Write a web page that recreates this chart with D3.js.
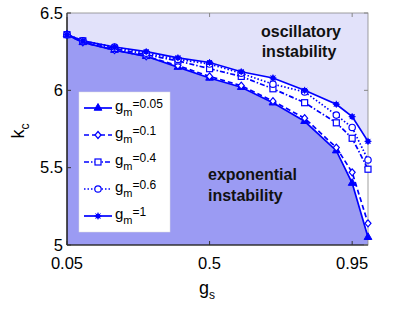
<!DOCTYPE html>
<html>
<head>
<meta charset="utf-8">
<script src="https://cdn.jsdelivr.net/npm/d3@7"></script>
<style>
  body { margin: 0; background: #fff; }
  svg { display: block; font-family: "Liberation Sans", Arial, sans-serif; }
</style>
</head>
<body>
<svg width="415" height="313"></svg>
<script>
// coupling strength g_s on the x axis
const gs = [0.05, 0.1, 0.2, 0.3, 0.4, 0.5, 0.6, 0.7, 0.8, 0.9, 0.95, 1.0]
// critical wavenumber k_c, one array per g_m
const kc005 = [6.36, 6.31, 6.26, 6.22, 6.15, 6.08, 6.02, 5.92, 5.80, 5.61, 5.40, 5.05]
const kc01 = [6.36, 6.31, 6.26, 6.22, 6.16, 6.09, 6.03, 5.93, 5.82, 5.63, 5.47, 5.14]
const kc04 = [6.36, 6.32, 6.27, 6.23, 6.19, 6.14, 6.09, 6.01, 5.92, 5.79, 5.69, 5.49]
const kc06 = [6.36, 6.32, 6.28, 6.24, 6.20, 6.17, 6.11, 6.04, 5.99, 5.84, 5.76, 5.55]
const kc1 = [6.36, 6.32, 6.28, 6.25, 6.21, 6.18, 6.12, 6.08, 6.00, 5.91, 5.83, 5.67]
const gmLabels = ["0.05", "0.1", "0.4", "0.6", "1"]
const xTicks = [0.05, 0.5, 0.95]
const yTicks = [5, 5.5, 6, 6.5]

const series = [
    { label: gmLabels[0], values: kc005, dash: null, marker: "triangle" },
    { label: gmLabels[1], values: kc01, dash: "5,3", marker: "diamond" },
    { label: gmLabels[2], values: kc04, dash: "5,2,1.5,2", marker: "square" },
    { label: gmLabels[3], values: kc06, dash: "1.5,2", marker: "circle" },
    { label: gmLabels[4], values: kc1, dash: null, marker: "star" }
]

const BLUE = "#0000ff"
const svg = d3.select("svg")
const x = d3.scaleLinear().domain([0.05, 1.0]).range([67, 368])
const y = d3.scaleLinear().domain([5, 6.5]).range([245, 13])

const pts = v => gs.map((g, i) => [x(g), y(v[i])])

// background regions
const plot = svg.append("g")
plot.append("rect")
    .attr("x", x(0.05)).attr("y", y(6.5))
    .attr("width", x(1) - x(0.05)).attr("height", y(5) - y(6.5))
    .attr("fill", "#ffffff")

// oscillatory region above gm=1 curve
let upper = [[x(0.05), y(6.5)]].concat(pts(kc1)).concat([[x(1), y(6.5)]])
plot.append("path")
    .attr("d", "M" + upper.join("L") + "Z")
    .attr("fill", "#e2e2fa")

// exponential region below gm=0.05 curve
let lower = [[x(0.05), y(5)]].concat(pts(kc005)).concat([[x(1), y(5)]])
plot.append("path")
    .attr("d", "M" + lower.join("L") + "Z")
    .attr("fill", "#9b9bf3")

// region labels
const region = svg.append("g")
    .attr("font-weight", "bold").attr("font-size", 16).attr("fill", "#111")
region.append("text").attr("x", 301).attr("y", 37).attr("text-anchor", "middle").text("oscillatory")
region.append("text").attr("x", 299).attr("y", 57).attr("text-anchor", "middle").text("instability")
region.append("text").attr("x", 208).attr("y", 180).text("exponential")
region.append("text").attr("x", 208).attr("y", 201).text("instability")

// axes box + ticks (inward, matlab style)
const ax = svg.append("g")
ax.append("rect")
    .attr("x", x(0.05)).attr("y", y(6.5))
    .attr("width", x(1) - x(0.05)).attr("height", y(5) - y(6.5))
    .attr("fill", "none").attr("stroke", "#888").attr("stroke-width", 0.8)
ax.append("line")
    .attr("x1", x(0.05)).attr("x2", x(0.05)).attr("y1", y(6.5)).attr("y2", y(5))
    .attr("stroke", "#000").attr("stroke-width", 1.2)
ax.append("line")
    .attr("x1", x(0.05)).attr("x2", x(1)).attr("y1", y(5)).attr("y2", y(5))
    .attr("stroke", "#000").attr("stroke-width", 1.2)

xTicks.forEach(t => {
    ax.append("line").attr("x1", x(t)).attr("x2", x(t))
        .attr("y1", y(5)).attr("y2", y(5) - 4).attr("stroke", "#333")
    ax.append("line").attr("x1", x(t)).attr("x2", x(t))
        .attr("y1", y(6.5)).attr("y2", y(6.5) + 4).attr("stroke", "#888")
    ax.append("text").attr("x", x(t)).attr("y", 269)
        .attr("text-anchor", "middle").attr("font-size", 16.5).text(t)
})
yTicks.forEach(t => {
    ax.append("line").attr("x1", x(0.05)).attr("x2", x(0.05) + 4)
        .attr("y1", y(t)).attr("y2", y(t)).attr("stroke", "#333")
    ax.append("line").attr("x1", x(1)).attr("x2", x(1) - 4)
        .attr("y1", y(t)).attr("y2", y(t)).attr("stroke", "#888")
    ax.append("text").attr("x", 63).attr("y", y(t) + 5.5)
        .attr("text-anchor", "end").attr("font-size", 16.5).text(t)
})

// axis labels
const xl = svg.append("text").attr("x", 207).attr("y", 294)
    .attr("font-size", 18).attr("text-anchor", "middle")
xl.append("tspan").text("g")
xl.append("tspan").attr("font-size", 12).attr("dy", 5).text("s")

const yl = svg.append("text")
    .attr("transform", "translate(24,131) rotate(-90)")
    .attr("font-size", 18).attr("text-anchor", "middle")
yl.append("tspan").text("k")
yl.append("tspan").attr("font-size", 12).attr("dy", 5).text("c")

// markers
function drawMarker(g, type, cx, cy) {
    if (type === "triangle") {
        g.append("path").attr("transform", `translate(${cx},${cy})`)
            .attr("d", d3.symbol(d3.symbolTriangle, 26)())
            .attr("fill", BLUE).attr("stroke", BLUE).attr("stroke-width", 1)
    } else if (type === "diamond") {
        g.append("path").attr("transform", `translate(${cx},${cy})`)
            .attr("d", "M0,-3.5L3,0L0,3.5L-3,0Z")
            .attr("fill", "#fff").attr("stroke", BLUE).attr("stroke-width", 1.2)
    } else if (type === "square") {
        g.append("rect").attr("x", cx - 3).attr("y", cy - 3)
            .attr("width", 6).attr("height", 6)
            .attr("fill", "#fff").attr("stroke", BLUE).attr("stroke-width", 1.2)
    } else if (type === "circle") {
        g.append("circle").attr("cx", cx).attr("cy", cy).attr("r", 3.2)
            .attr("fill", "#fff").attr("stroke", BLUE).attr("stroke-width", 1.2)
    } else {
        g.append("circle").attr("cx", cx).attr("cy", cy).attr("r", 2.6)
            .attr("fill", BLUE)
        g.append("path").attr("transform", `translate(${cx},${cy})`)
            .attr("d", "M-3.5,0H3.5M0,-3.5V3.5M-2.5,-2.5L2.5,2.5M-2.5,2.5L2.5,-2.5")
            .attr("stroke", BLUE).attr("stroke-width", 1)
    }
}

const line = d3.line().x(d => d[0]).y(d => d[1])
const lines = svg.append("g")
series.forEach(s => {
    lines.append("path")
        .attr("d", line(pts(s.values)))
        .attr("fill", "none").attr("stroke", BLUE).attr("stroke-width", 1.7)
        .attr("stroke-dasharray", s.dash)
})
series.forEach(s => {
    pts(s.values).forEach(p => drawMarker(lines, s.marker, p[0], p[1]))
})

// legend
const leg = svg.append("g")
leg.append("rect").attr("x", 79).attr("y", 92).attr("width", 91).attr("height", 140)
    .attr("fill", "#fff").attr("stroke", "#ddd").attr("stroke-width", 0.5)
series.forEach((s, i) => {
    let ly = 108 + i * 27
    leg.append("line").attr("x1", 84).attr("x2", 112).attr("y1", ly).attr("y2", ly)
        .attr("stroke", BLUE).attr("stroke-width", 1.7).attr("stroke-dasharray", s.dash)
    drawMarker(leg, s.marker, 98, ly)
    let t = leg.append("text").attr("x", 115).attr("y", ly + 3).attr("font-size", 15)
    t.append("tspan").text("g")
    t.append("tspan").attr("font-size", 11).attr("dy", 5).text("m")
    t.append("tspan").attr("font-size", 12).attr("dy", -8).text("=" + s.label)
})
</script>
</body>
</html>
